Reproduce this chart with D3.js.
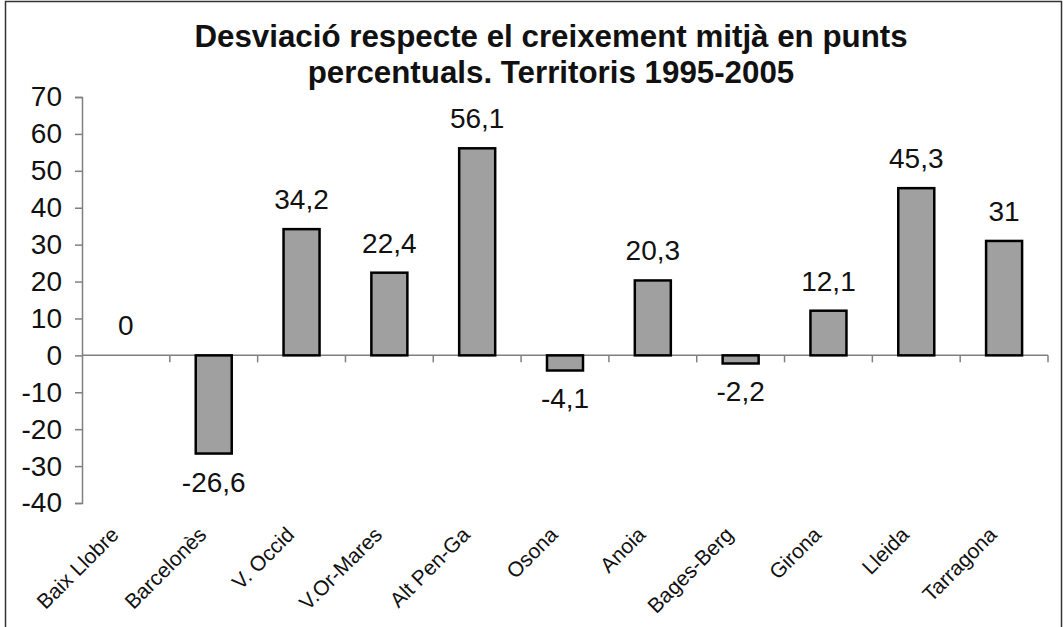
<!DOCTYPE html>
<html>
<head>
<meta charset="utf-8">
<script src="https://cdn.jsdelivr.net/npm/d3@7"></script>
<style>
  body { margin: 0; background: #fff; }
  svg { display: block; font-family: "Liberation Sans", Arial, sans-serif; }
</style>
</head>
<body>
<svg id="chart"></svg>
<script>
const territories = ["Baix Llobre", "Barcelonès", "V. Occid", "V.Or-Mares", "Alt Pen-Ga",
  "Osona", "Anoia", "Bages-Berg", "Girona", "Lleida", "Tarragona"];
const deviation = [0, -26.6, 34.2, 22.4, 56.1, -4.1, 20.3, -2.2, 12.1, 45.3, 31];
const yTicks = [70, 60, 50, 40, 30, 20, 10, 0, -10, -20, -30, -40];
const titleLines = ["Desviació respecte el creixement mitjà en punts",
  "percentuals. Territoris 1995-2005"];

const data = territories.map((t, i) => ({ name: t, value: deviation[i] }));

function getChartConfig() {
  const dimensions = {
    width: 1064,
    height: 627,
    margin: { top: 97, bottom: 124, left: 82, right: 16 }
  };
  const chart = d3.select("#chart")
    .attr("width", dimensions.width)
    .attr("height", dimensions.height);
  return { dimensions, container: chart };
}

function getScales(config) {
  const { width, height, margin } = config.dimensions;
  const xScale = d3.scaleBand()
    .domain(territories)
    .range([margin.left, width - margin.right])
    .padding(0);
  const yScale = d3.scaleLinear()
    .domain([-40, 70])
    .range([height - margin.bottom, margin.top]);
  return { xScale, yScale };
}

function drawFrame(config) {
  config.container.append("rect")
    .attr("x", 5.5).attr("y", 1.5)
    .attr("width", 1056).attr("height", 660)
    .attr("fill", "none")
    .attr("stroke", "#333")
    .attr("stroke-width", 1.5);

  config.container.append("g")
    .selectAll("text")
    .data(titleLines)
    .join("text")
    .attr("x", 551)
    .attr("y", (d, i) => 47 + i * 36)
    .attr("text-anchor", "middle")
    .attr("font-size", 31.3)
    .attr("font-weight", "bold")
    .attr("fill", "#111")
    .text(d => d);
}

function drawAxes(config, scales) {
  const { xScale, yScale } = scales;
  const { container } = config;

  const axisY = d3.axisLeft(yScale)
    .tickValues(yTicks)
    .tickSize(7)
    .tickPadding(13)
    .tickFormat(d => String(d));

  const gy = container.append("g")
    .attr("transform", `translate(${xScale.range()[0]},0)`)
    .call(axisY);
  gy.select(".domain").attr("stroke", "#808080").attr("stroke-width", 1.5);
  gy.selectAll(".tick line").attr("stroke", "#808080").attr("stroke-width", 1.5);
  gy.selectAll(".tick text")
    .attr("font-size", 28)
    .attr("font-family", "Liberation Sans, Arial, sans-serif")
    .attr("fill", "#111");

  // zero line with ticks at category boundaries
  const bounds = territories.map(t => xScale(t)).concat([xScale.range()[1]]);
  const gx = container.append("g").attr("transform", `translate(0,${yScale(0)})`);
  gx.append("line")
    .attr("x1", xScale.range()[0]).attr("x2", xScale.range()[1])
    .attr("stroke", "#808080").attr("stroke-width", 1.5);
  gx.selectAll(".xtick")
    .data(bounds.slice(1))
    .join("line")
    .attr("class", "xtick")
    .attr("x1", d => d).attr("x2", d => d)
    .attr("y1", 0).attr("y2", 7)
    .attr("stroke", "#808080").attr("stroke-width", 1.5);

  // rotated category labels
  container.append("g")
    .selectAll("text")
    .data(territories)
    .join("text")
    .attr("transform", d => `translate(${xScale(d) + xScale.bandwidth() / 2 - 6},${yScale(-40) + 33}) rotate(-45)`)
    .attr("text-anchor", "end")
    .attr("font-size", 21)
    .attr("fill", "#111")
    .text(d => d);
}

function drawBars(config, scales) {
  const { xScale, yScale } = scales;
  const barWidth = xScale.bandwidth() * 0.41;

  config.container.append("g")
    .selectAll("rect")
    .data(data.filter(d => d.value !== 0))
    .join("rect")
    .attr("x", d => xScale(d.name) + (xScale.bandwidth() - barWidth) / 2)
    .attr("y", d => yScale(Math.max(0, d.value)))
    .attr("width", barWidth)
    .attr("height", d => Math.abs(yScale(d.value) - yScale(0)))
    .attr("fill", "#a0a0a0")
    .attr("stroke", "#000")
    .attr("stroke-width", 2.5);

  config.container.append("g")
    .selectAll("text")
    .data(data)
    .join("text")
    .attr("x", d => xScale(d.name) + xScale.bandwidth() / 2)
    .attr("y", d => d.value >= 0 ? yScale(d.value) - 20 : yScale(d.value) + 38)
    .attr("text-anchor", "middle")
    .attr("font-size", 28)
    .attr("fill", "#111")
    .text(d => String(d.value).replace(".", ","));
}

function renderChart() {
  const config = getChartConfig();
  const scales = getScales(config);
  drawFrame(config);
  drawAxes(config, scales);
  drawBars(config, scales);
}

renderChart();
</script>
</body>
</html>
